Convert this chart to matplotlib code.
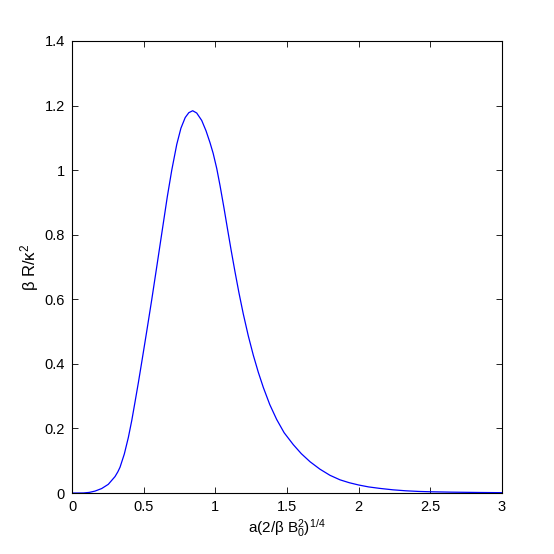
import matplotlib
matplotlib.use("Agg")
import matplotlib.pyplot as plt

plt.rcParams['font.family'] = ['Liberation Sans', 'DejaVu Sans']
plt.rcParams['mathtext.fontset'] = 'custom'
plt.rcParams['mathtext.rm'] = 'Liberation Sans'
plt.rcParams['mathtext.it'] = 'Liberation Sans'
plt.rcParams['mathtext.default'] = 'regular'

x_vals = [0.00, 0.08, 0.12, 0.16, 0.207, 0.253, 0.300, 0.320, 0.335, 0.365, 0.393,
          0.417, 0.440, 0.463, 0.490, 0.521, 0.556, 0.591, 0.630, 0.665, 0.696,
          0.731, 0.760, 0.790, 0.815, 0.842, 0.870, 0.905, 0.935, 0.963, 0.985,
          1.010, 1.033, 1.060, 1.085, 1.110, 1.137, 1.165, 1.195, 1.230, 1.265,
          1.300, 1.335, 1.380, 1.428, 1.480, 1.544, 1.600, 1.661, 1.730, 1.800,
          1.870, 1.935, 2.000, 2.070, 2.147, 2.240, 2.330, 2.420, 2.500, 2.650,
          2.840, 3.000]
y_vals = [0.000, 0.0003, 0.002, 0.006, 0.014, 0.027, 0.051, 0.066, 0.080, 0.121, 0.172,
          0.225, 0.283, 0.342, 0.415, 0.500, 0.598, 0.700, 0.815, 0.918, 1.000,
          1.080, 1.130, 1.163, 1.178, 1.184, 1.177, 1.154, 1.122, 1.085, 1.052,
          1.005, 0.952, 0.884, 0.818, 0.753, 0.686, 0.620, 0.555, 0.487, 0.427,
          0.374, 0.327, 0.274, 0.228, 0.187, 0.150, 0.122, 0.097, 0.074, 0.055,
          0.041, 0.032, 0.025, 0.019, 0.0145, 0.010, 0.007, 0.005, 0.004, 0.0028,
          0.0018, 0.0012]

x_ticks = [0, 0.5, 1, 1.5, 2, 2.5, 3]
x_tick_labels = ['0', '0.5', '1', '1.5', '2', '2.5', '3']
y_ticks = [0, 0.2, 0.4, 0.6, 0.8, 1.0, 1.2, 1.4]
y_tick_labels = ['0', '0.2', '0.4', '0.6', '0.8', '1', '1.2', '1.4']

fig = plt.figure(figsize=(5.54, 5.54), dpi=100)
ax = fig.add_axes([0.13, 0.11, 0.776, 0.816])
ax.plot(x_vals, y_vals, color='#0000ff', linewidth=0.9)
ax.set_xlim(0, 3)
ax.set_ylim(0, 1.4)
ax.set_xticks(x_ticks)
ax.set_xticklabels(x_tick_labels)
ax.set_yticks(y_ticks)
ax.set_yticklabels(y_tick_labels)
ax.tick_params(direction='in', top=True, right=True, length=4, width=0.6,
               labelsize=10.5, pad=5)
for s in ax.spines.values():
    s.set_linewidth(0.8)
ax.set_xlabel(r'a(2/β B$_0^2$)$^{1/4}$', fontsize=11, labelpad=2)
ax.set_ylabel(r'β R/κ$^2$', fontsize=12, labelpad=3)
fig.savefig('out.png', dpi=100)
